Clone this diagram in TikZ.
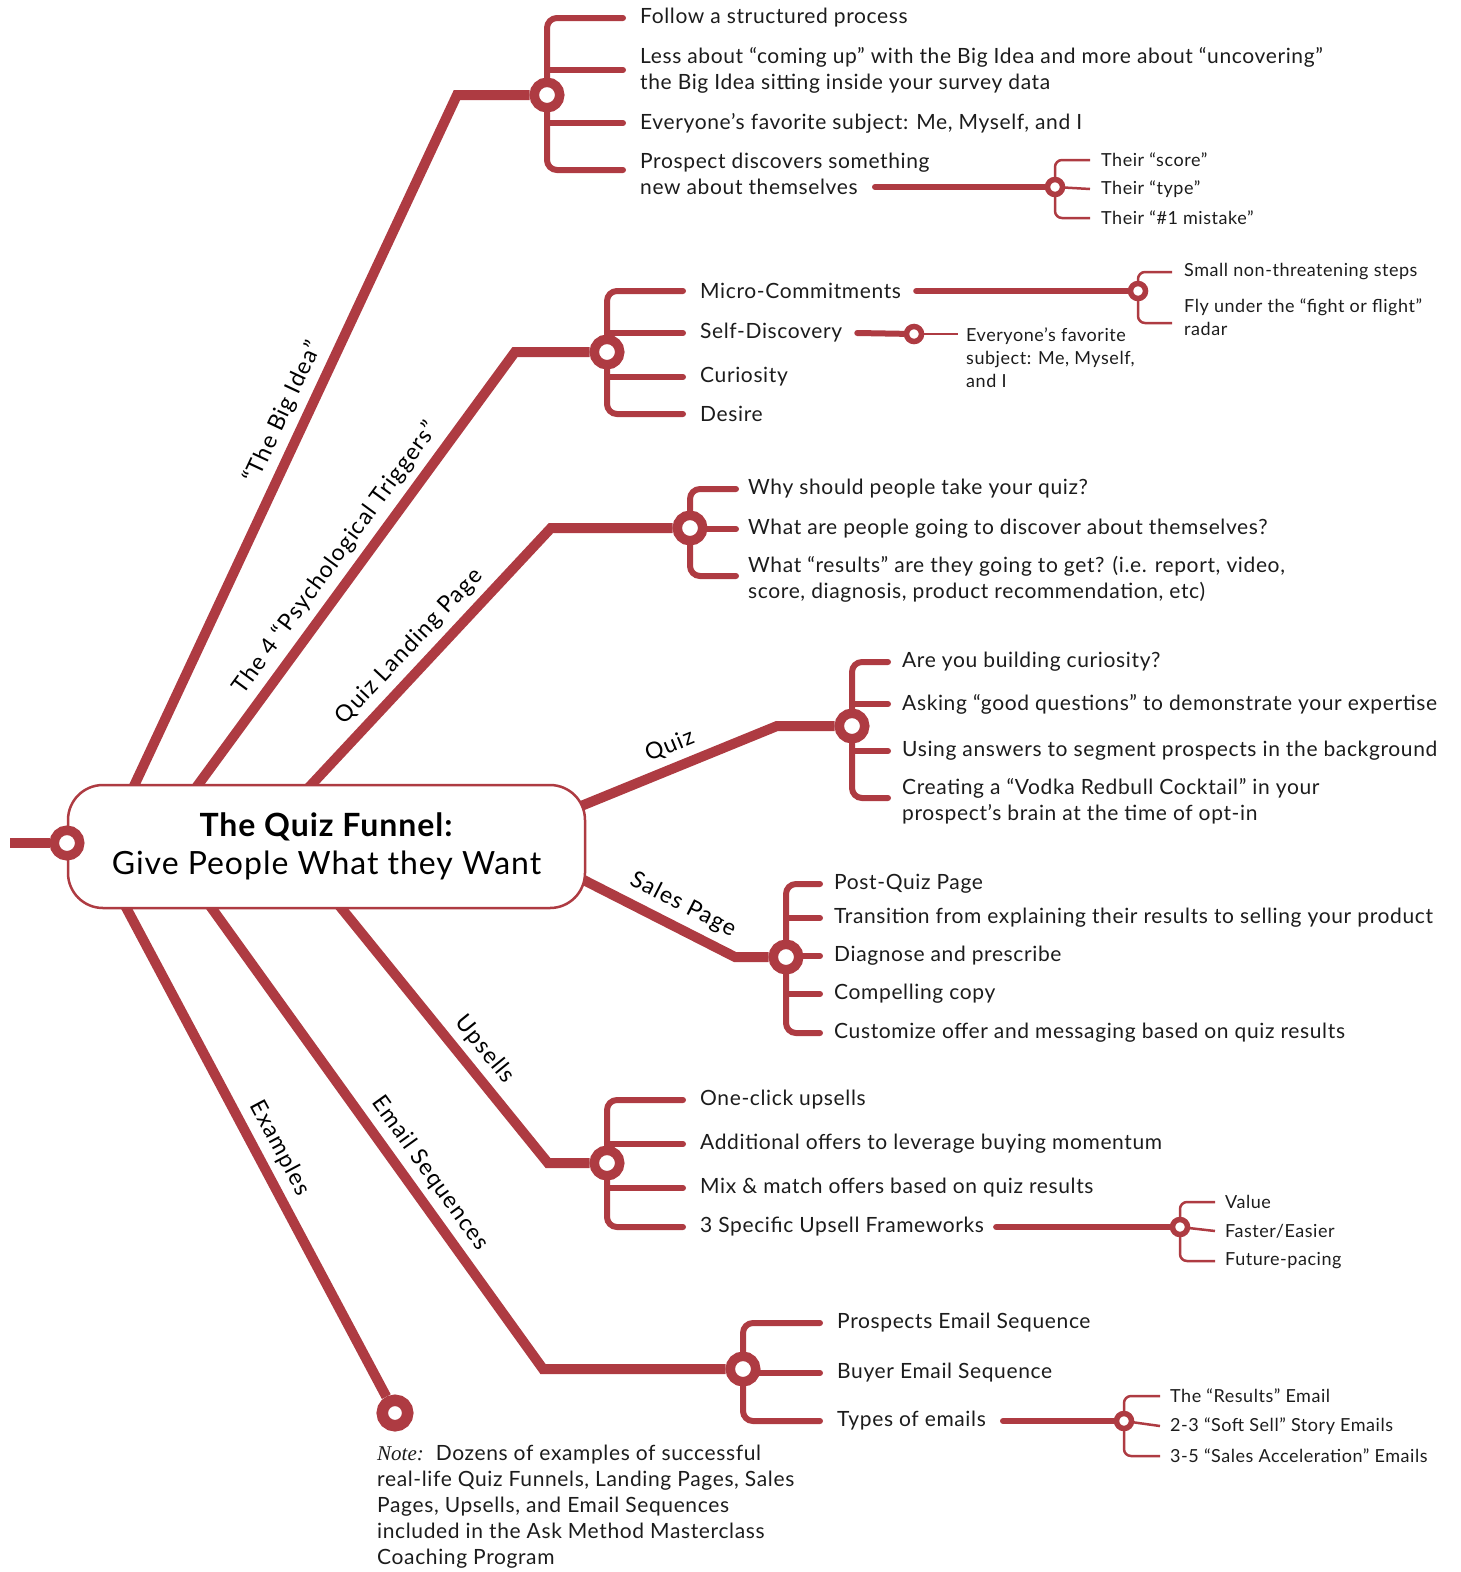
\documentclass[tikz,border=0pt]{standalone}
\usepackage{fontspec}
\setmainfont{Lato}[LetterSpace=3]
\newfontfamily\notefont{Liberation Serif}
\usetikzlibrary{calc}
\definecolor{funnelred}{RGB}{174,59,66}
\definecolor{funnelink}{RGB}{28,28,28}
\pgfdeclarelayer{bg}
\pgfsetlayers{bg,main}

\begin{document}
\begin{tikzpicture}[x=1pt,y=-1pt,
	branch/.style={draw=funnelred, line width=10pt},
	twig/.style={draw=funnelred, line width=6pt, line cap=round},
	bracket/.style={draw=funnelred, line width=6pt, line cap=round, rounded corners=10pt},
	thinbracket/.style={draw=funnelred, line width=2.5pt, rounded corners=7pt},
	hub/.style={circle, draw=funnelred, fill=white, line width=9.5pt, minimum size=25.5pt, inner sep=0pt},
	endhub/.style={hub, line width=11.5pt},
	minihub/.style={circle, draw=funnelred, fill=white, line width=5.5pt, minimum size=15pt, inner sep=0pt},
	item/.style={anchor=west, inner sep=0pt, align=left, text=funnelink, font=\fontsize{21}{26}\selectfont},
	subitem/.style={anchor=west, inner sep=0pt, align=left, text=funnelink, font=\fontsize{18}{23}\selectfont},
	tag/.style={sloped, above, inner sep=7pt, text=black, font=\fontsize{23}{27}\selectfont\addfontfeatures{LetterSpace=5}}]
			%%%%% START %%%%%
			\useasboundingbox (0,0) rectangle (1461,1572);
			
			% centre
			\node[draw=funnelred, line width=2.5pt, fill=white, rounded corners=35pt, minimum width=517pt, minimum height=123pt, align=center, text=black, font=\fontsize{32}{38}\selectfont] (root) at (326.5,846.5) {\textbf{The Quiz Funnel:}\\Give People What they Want};
			\node[hub] (hRoot) at (67,843) {};
			\coordinate (cLeft) at (10,843);
			
			% hubs
			\node[hub] (hBig) at (547,95) {};
			\node[hub] (hTrig) at (607,352) {};
			\node[hub] (hLand) at (690,528) {};
			\node[hub] (hQuiz) at (852,726) {};
			\node[hub] (hSales) at (786,957) {};
			\node[hub] (hUp) at (607,1163) {};
			\node[hub] (hMail) at (743,1369) {};
			\node[endhub] (hEx) at (395,1413) {};
			
			% the big idea
			\node[item] (tBig1) at (640,18) {Follow a structured process};
			\node[item] (tBig2) at (640,70) {Less about “coming up” with the Big Idea and more about “uncovering”\\the Big Idea sitting inside your survey data};
			\node[item] (tBig3) at (640,123) {Everyone’s favorite subject: Me, Myself, and I};
			\node[item] (tBig4) at (640,174) {Prospect discovers something\\new about themselves};
			\node[minihub] (hSelfNew) at (1055,187) {};
			\coordinate (cSelfNew) at (875,187);
			\node[subitem] (sBig1) at (1101,160) {Their “score”};
			\node[subitem] (sBig2) at (1101,189) {Their “type”};
			\node[subitem] (sBig3) at (1101,218) {Their “\#1 mistake”};
			
			% triggers
			\node[item] (tTrig1) at (700,291) {Micro-Commitments};
			\node[item] (tTrig2) at (700,333) {Self-Discovery};
			\node[item] (tTrig3) at (700,377) {Curiosity};
			\node[item] (tTrig4) at (700,414) {Desire};
			\node[minihub] (hMicro) at (1138,291) {};
			\node[subitem] (sMicro1) at (1184,272) {Small non-threatening steps};
			\node[subitem] (sMicro2) at (1184,317) {Fly under the “fight or flight”\\radar};
			\node[minihub] (hSelf) at (914,334) {};
			\node[subitem] (sSelf) at (966,358) {Everyone’s favorite\\subject: Me, Myself,\\and I};
			
			% landing page
			\node[item] (tLand1) at (748,489) {Why should people take your quiz?};
			\node[item] (tLand2) at (748,529) {What are people going to discover about themselves?};
			\node[item] (tLand3) at (748,579) {What “results” are they going to get? (i.e. report, video,\\score, diagnosis, product recommendation, etc)};
			
			% quiz
			\node[item] (tQuiz1) at (902,662) {Are you building curiosity?};
			\node[item] (tQuiz2) at (902,704) {Asking “good questions” to demonstrate your expertise};
			\node[item] (tQuiz3) at (902,751) {Using answers to segment prospects in the background};
			\node[item] (tQuiz4) at (902,801) {Creating a “Vodka Redbull Cocktail” in your\\prospect’s brain at the time of opt-in};
			
			% sales page
			\node[item] (tSales1) at (834,884) {Post-Quiz Page};
			\node[item] (tSales2) at (834,918) {Transition from explaining their results to selling your product};
			\node[item] (tSales3) at (834,956) {Diagnose and prescribe};
			\node[item] (tSales4) at (834,994) {Compelling copy};
			\node[item] (tSales5) at (834,1033) {Customize offer and messaging based on quiz results};
			
			% upsells
			\node[item] (tUp1) at (700,1100) {One-click upsells};
			\node[item] (tUp2) at (700,1144) {Additional offers to leverage buying momentum};
			\node[item] (tUp3) at (700,1188) {Mix \& match offers based on quiz results};
			\node[item] (tUp4) at (700,1227) {3 Specific Upsell Frameworks};
			\node[minihub] (hFrame) at (1180,1227) {};
			\node[subitem] (sFrame1) at (1225,1202) {Value};
			\node[subitem] (sFrame2) at (1225,1231) {Faster/Easier};
			\node[subitem] (sFrame3) at (1225,1261) {Future-pacing};
			
			% emails
			\node[item] (tMail1) at (837,1323) {Prospects Email Sequence};
			\node[item] (tMail2) at (837,1373) {Buyer Email Sequence};
			\node[item] (tMail3) at (837,1421) {Types of emails};
			\node[minihub] (hTypes) at (1124,1421) {};
			\node[subitem] (sTypes1) at (1170,1396) {The “Results” Email};
			\node[subitem] (sTypes2) at (1170,1426) {2-3 “Soft Sell” Story Emails};
			\node[subitem] (sTypes3) at (1170,1456) {3-5 “Sales Acceleration” Emails};
			
			% examples
			\node[item, anchor=north west] (tNote) at (377,1445) {{\notefont\itshape Note:}\ \ Dozens of examples of successful\\real-life Quiz Funnels, Landing Pages, Sales\\Pages, Upsells, and Email Sequences\\included in the Ask Method Masterclass\\Coaching Program};
			
			\begin{pgfonlayer}{bg}
			\draw[branch] (cLeft) -- (hRoot);
			\draw[branch] ($(root.north west)+(65,7)$) -- node[tag, pos=.53] {“The Big Idea”} (457,95) -- (hBig);
			\draw[branch] ($(root.north west)+(127,7)$) -- node[tag, pos=.5] {The 4 “Psychological Triggers”} (515,352) -- (hTrig);
			\draw[branch] ($(root.north west)+(239,7)$) -- node[tag, pos=.49] {Quiz Landing Page} (551,528) -- (hLand);
			\draw[branch] ($(root.north east)+(-7,23)$) -- node[tag, pos=.5] {Quiz} (777,726) -- (hQuiz);
			\draw[branch] ($(root.north east)+(-7,94)$) -- node[tag, pos=.6] {Sales Page} (735,957) -- (hSales);
			\draw[branch] ($(root.south west)+(269,-8)$) -- node[tag, pos=.62] {Upsells} (548,1163) -- (hUp);
			\draw[branch] ($(root.south west)+(140,-8)$) -- node[tag, pos=.61] {Email Sequences} (543,1369) -- (hMail);
			\draw[branch] ($(root.south west)+(56,-8)$) -- node[tag, pos=.52] {Examples} (hEx);
			
			% brackets
			\draw[bracket] ([xshift=-17pt]tBig1.west) -| (hBig.center) |- ([xshift=-17pt, yshift=4pt]tBig4.west);
			\draw[bracket] (hBig.center |- tBig2.west) -- ([xshift=-17pt]tBig2.west);
			\draw[bracket] (hBig.center |- tBig3.west) -- ([xshift=-17pt]tBig3.west);
			
			\draw[bracket] ([xshift=-17pt]tTrig1.west) -| (hTrig.center) |- ([xshift=-17pt]tTrig4.west);
			\draw[bracket] (hTrig.center |- tTrig2.west) -- ([xshift=-17pt]tTrig2.west);
			\draw[bracket] (hTrig.center |- tTrig3.west) -- ([xshift=-17pt]tTrig3.west);
			
			\draw[bracket] ([xshift=-12pt]tLand1.west) -| (hLand.center) |- ([xshift=-12pt, yshift=3pt]tLand3.west);
			\draw[bracket] (hLand.center |- tLand2.west) -- ([xshift=-12pt]tLand2.west);
			
			\draw[bracket] ([xshift=-14pt]tQuiz1.west) -| (hQuiz.center) |- ([xshift=-14pt, yshift=3pt]tQuiz4.west);
			\draw[bracket] (hQuiz.center |- tQuiz2.west) -- ([xshift=-14pt]tQuiz2.west);
			\draw[bracket] (hQuiz.center |- tQuiz3.west) -- ([xshift=-14pt]tQuiz3.west);
			
			\draw[bracket] ([xshift=-14pt]tSales1.west) -| (hSales.center) |- ([xshift=-14pt]tSales5.west);
			\draw[bracket] (hSales.center |- tSales2.west) -- ([xshift=-14pt]tSales2.west);
			\draw[bracket] (hSales.center |- tSales3.west) -- ([xshift=-14pt]tSales3.west);
			\draw[bracket] (hSales.center |- tSales4.west) -- ([xshift=-14pt]tSales4.west);
			
			\draw[bracket] ([xshift=-17pt]tUp1.west) -| (hUp.center) |- ([xshift=-17pt]tUp4.west);
			\draw[bracket] (hUp.center |- tUp2.west) -- ([xshift=-17pt]tUp2.west);
			\draw[bracket] (hUp.center |- tUp3.west) -- ([xshift=-17pt]tUp3.west);
			
			\draw[bracket] ([xshift=-17pt]tMail1.west) -| (hMail.center) |- ([xshift=-17pt]tMail3.west);
			\draw[bracket] (hMail.center |- tMail2.west) -- ([xshift=-17pt]tMail2.west);
			
			% second level
			\draw[twig] (cSelfNew) -- (hSelfNew);
			\draw[thinbracket] ([xshift=-11pt]sBig1.west) -| (hSelfNew.center) |- ([xshift=-11pt]sBig3.west);
			\draw[thinbracket] (hSelfNew.center) -- ([xshift=-11pt]sBig2.west);
			
			\draw[twig] ([xshift=15pt]tTrig1.east) -- (hMicro);
			\draw[thinbracket] ([xshift=-12pt]sMicro1.west) -| (hMicro.center) |- ([xshift=-12pt, yshift=-6pt]sMicro2.west);
			\draw[twig] ([xshift=15pt]tTrig2.east) -- (hSelf);
			\draw[thinbracket, shorten >=8pt] (hSelf.center) -- (hSelf -| sSelf.west);
			
			\draw[twig] ([xshift=12pt]tUp4.east) -- (hFrame);
			\draw[thinbracket] ([xshift=-10pt]sFrame1.west) -| (hFrame.center) |- ([xshift=-10pt]sFrame3.west);
			\draw[thinbracket] (hFrame.center) -- ([xshift=-10pt]sFrame2.west);
			
			\draw[twig] ([xshift=17pt]tMail3.east) -- (hTypes);
			\draw[thinbracket] ([xshift=-10pt]sTypes1.west) -| (hTypes.center) |- ([xshift=-10pt]sTypes3.west);
			\draw[thinbracket] (hTypes.center) -- ([xshift=-10pt]sTypes2.west);
			\end{pgfonlayer}
			%%%%% END %%%%%
\end{tikzpicture}
\end{document}
